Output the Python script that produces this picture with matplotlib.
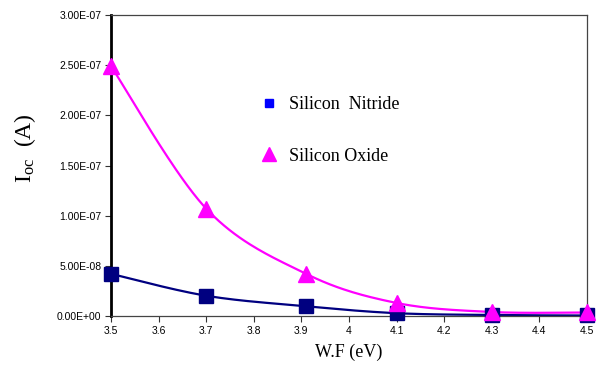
import numpy as np
import matplotlib
matplotlib.use("Agg")
import matplotlib.pyplot as plt
from matplotlib.ticker import FuncFormatter, MultipleLocator
from matplotlib.lines import Line2D

plt.rcParams["mathtext.fontset"] = "custom"
plt.rcParams["mathtext.rm"] = "Liberation Serif"
plt.rcParams["mathtext.it"] = "Liberation Serif:italic"

# Work function (eV) and open-circuit current (A)
work_function = [3.5, 3.7, 3.91, 4.1, 4.3, 4.5]
nitride_current = [4.2e-8, 2.02e-8, 9.7e-9, 2.8e-9, 1.0e-9, 5e-10]
oxide_current = [2.49e-7, 1.07e-7, 4.2e-8, 1.3e-8, 4.0e-9, 3.5e-9]
series_labels = ["Silicon  Nitride", "Silicon Oxide"]


def smooth(x, y, n=40):
    """Catmull-Rom curve through the points (spreadsheet-style smoothing)."""
    x = np.asarray(x, float)
    y = np.asarray(y, float)
    px = np.concatenate([[x[0]], x, [x[-1]]])
    py = np.concatenate([[y[0]], y, [y[-1]]])
    xs, ys = [], []
    t = np.linspace(0, 1, n)
    for i in range(1, len(px) - 2):
        p0, p1, p2, p3 = (np.array([px[j], py[j]]) for j in range(i - 1, i + 3))
        c1 = p1 + (p2 - p0) / 6
        c2 = p2 - (p3 - p1) / 6
        b = ((1 - t) ** 3)[:, None] * p1 + (3 * (1 - t) ** 2 * t)[:, None] * c1 \
            + (3 * (1 - t) * t ** 2)[:, None] * c2 + (t ** 3)[:, None] * p2
        xs.append(b[:, 0])
        ys.append(b[:, 1])
    return np.concatenate(xs), np.concatenate(ys)


fig = plt.figure(figsize=(5.98, 3.70), dpi=100)
ax = fig.add_axes([111 / 598, 1 - 316 / 370, (587 - 111) / 598, (316 - 15) / 370])

navy = "#000080"
magenta = "#FF00FF"

sx, sy = smooth(work_function, oxide_current)
ax.plot(sx, sy, color=magenta, lw=1.6, zorder=2, clip_on=False)
sx, sy = smooth(work_function, nitride_current)
ax.plot(sx, sy, color=navy, lw=1.6, zorder=2, clip_on=False)

ax.plot(work_function, nitride_current, ls="none", marker="s", ms=10,
        color=navy, zorder=3, clip_on=False)
ax.plot(work_function, oxide_current, ls="none", marker="^", ms=11,
        color=magenta, zorder=4, clip_on=False)

ax.set_xlim(3.5, 4.5)
ax.set_ylim(0, 3e-7)
ax.xaxis.set_major_locator(MultipleLocator(0.1))
ax.yaxis.set_major_locator(MultipleLocator(5e-8))
ax.xaxis.set_major_formatter(FuncFormatter(lambda v, p: f"{v:g}"))
ax.yaxis.set_major_formatter(FuncFormatter(lambda v, p: f"{v:.2E}"))

for lab in ax.get_xticklabels() + ax.get_yticklabels():
    lab.set_fontfamily("Liberation Sans")
    lab.set_fontsize(7.5)
ax.tick_params(axis="both", direction="out", length=4, width=0.8, color="#333333", pad=3)
ax.tick_params(axis="x", pad=3)

for side in ["top", "right", "bottom"]:
    ax.spines[side].set_color("#444444")
    ax.spines[side].set_linewidth(0.9)
ax.spines["left"].set_color("black")
ax.spines["left"].set_linewidth(2)

ax.set_xlabel("W.F (eV)", fontfamily="Liberation Serif", fontsize=13, labelpad=6)
fig.text(25 / 598, 1 - 148 / 370, r"I$_{\mathrm{oc}}$  (A)", rotation=90,
         ha="center", va="center", fontfamily="Liberation Serif", fontsize=17)

handles = [
    Line2D([], [], ls="none", marker="s", ms=6, color="#0000FF"),
    Line2D([], [], ls="none", marker="^", ms=10, color=magenta),
]
fig.legend(handles, series_labels, loc="upper left",
           bbox_to_anchor=(244 / 598, 1 - 80 / 370), frameon=False,
           prop={"family": "Liberation Serif", "size": 13},
           labelspacing=1.9, handlelength=1.0, handletextpad=0.6)

fig.savefig("out.png", dpi=100)
